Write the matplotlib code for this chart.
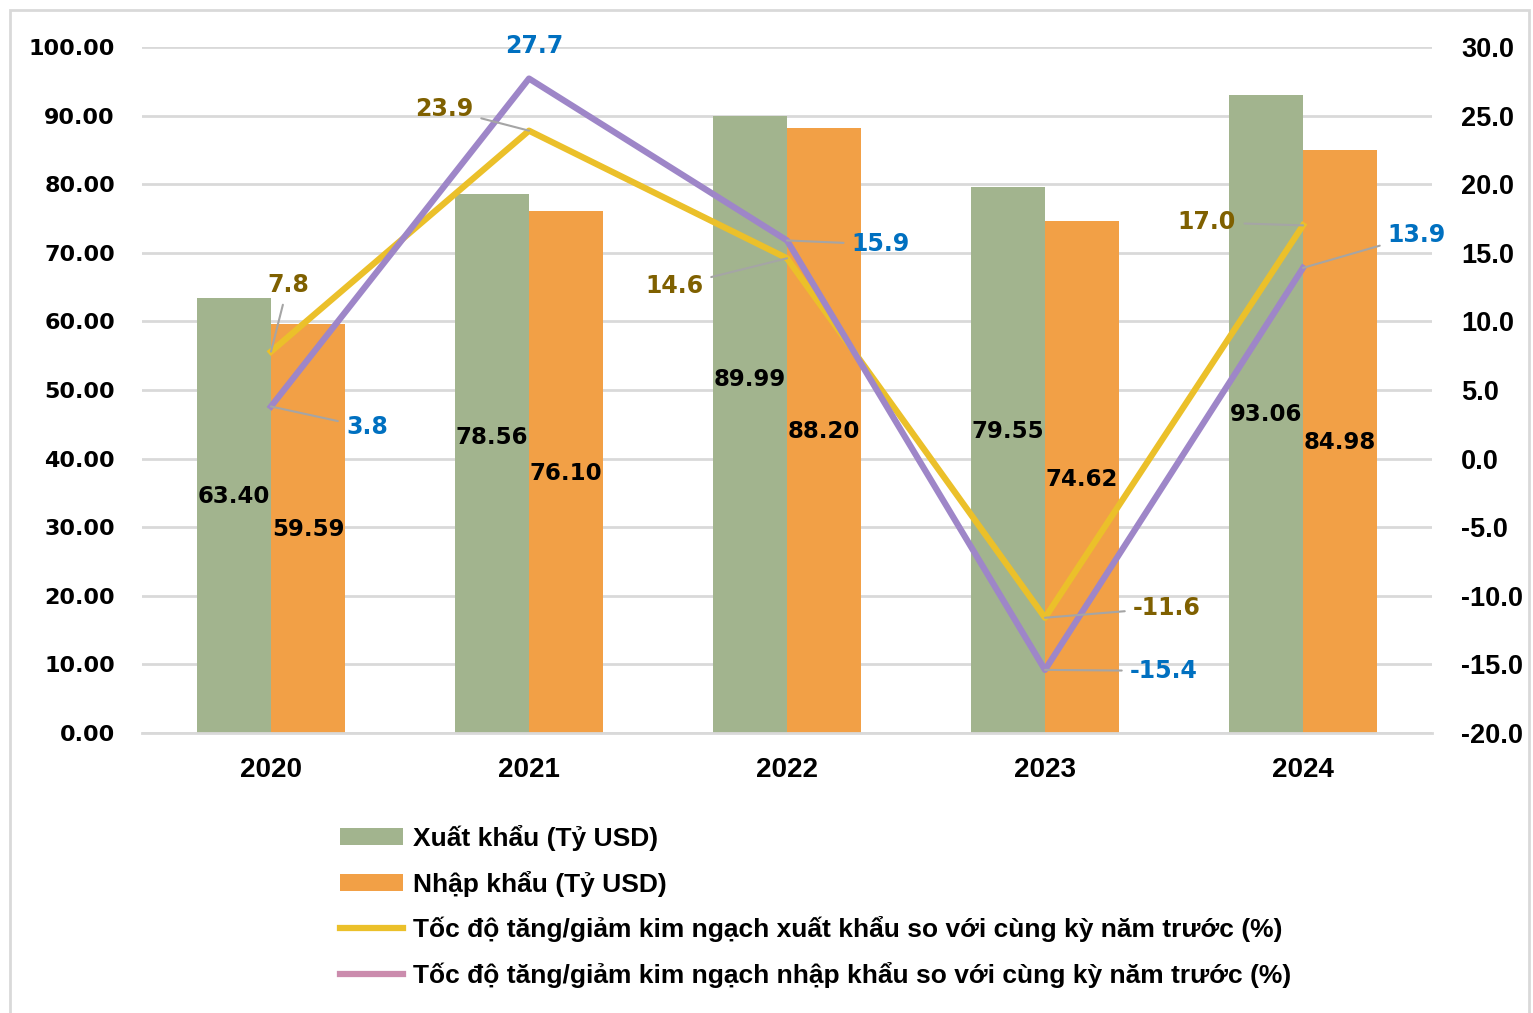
import matplotlib
matplotlib.use("Agg")
import matplotlib.pyplot as plt
import numpy as np
from matplotlib.patches import Rectangle, Patch
from matplotlib.lines import Line2D

years = ["2020", "2021", "2022", "2023", "2024"]
export_val = [63.40, 78.56, 89.99, 79.55, 93.06]
import_val = [59.59, 76.10, 88.20, 74.62, 84.98]
export_growth = [7.8, 23.9, 14.6, -11.6, 17.0]
import_growth = [3.8, 27.7, 15.9, -15.4, 13.9]

legend_labels = ["Xuất khẩu (Tỷ USD)", "Nhập khẩu (Tỷ USD)",
                 "Tốc độ tăng/giảm kim ngạch xuất khẩu so với cùng kỳ năm trước (%)",
                 "Tốc độ tăng/giảm kim ngạch nhập khẩu so với cùng kỳ năm trước (%)"]

# styling: label vertical positions (in left-axis units) and growth label offsets (pixels)
exp_lab_y = [34.5, 43.1, 51.5, 44.0, 46.4]
imp_lab_y = [29.7, 37.9, 43.9, 37.0, 42.4]
exp_g_off = [(17, 67), (-85, 22), (-113, -28), (122, 10), (-96, 3)]
imp_g_off = [(96, -21), (5, 33), (94, -4), (119, -1), (114, 33)]

GREEN = "#A2B48E"
ORANGE = "#F2A046"
YELLOW = "#EBC02A"
PURPLE = "#9E86C8"
GOLD_TXT = "#7F6000"
BLUE_TXT = "#0070C0"
GRID = "#D9D9D9"

fig = plt.figure(figsize=(15.33, 10.13), dpi=100)
ax = fig.add_axes([142/1533, 1-733/1013, (1432-142)/1533, (733-47)/1013])
ax2 = ax.twinx()

x = np.arange(len(years))
w = 0.287
ax.bar(x - w/2, export_val, w, color=GREEN, zorder=2)
ax.bar(x + w/2, import_val, w, color=ORANGE, zorder=2)
ax.set_xlim(-0.5, len(years)-0.5)
ax.set_ylim(0, 100)
ax.set_yticks(np.arange(0, 101, 10))
ax.set_yticklabels([f"{v:.2f}" for v in np.arange(0, 101, 10)])
ax.grid(axis="y", color=GRID, linewidth=2, zorder=0)
ax.set_axisbelow(True)
ax.set_xticks(x)
ax.set_xticklabels(years)
for s in ["top", "left", "right"]:
    ax.spines[s].set_visible(False)
    ax2.spines[s].set_visible(False)
ax.spines["bottom"].set_color(GRID)
ax.spines["bottom"].set_linewidth(2)
ax2.spines["bottom"].set_visible(False)
ax.tick_params(axis="y", length=0, pad=19.5, labelsize=16)
ax.tick_params(axis="x", length=0, pad=17.5, labelsize=20)
for t in ax.get_yticklabels():
    t.set_fontweight("bold")
    t.set_family("DejaVu Sans")
for t in ax.get_xticklabels():
    t.set_fontweight("bold")
    t.set_family("Liberation Sans")

for i in range(len(years)):
    ax.text(x[i] - w/2, exp_lab_y[i], f"{export_val[i]:.2f}", ha="center", va="center",
            fontsize=16.5, fontweight="bold", color="black", zorder=5)
    ax.text(x[i] + w/2, imp_lab_y[i], f"{import_val[i]:.2f}", ha="center", va="center",
            fontsize=16.5, fontweight="bold", color="black", zorder=5)

ax2.set_ylim(-20, 30)
ax2.set_yticks(np.arange(-20, 31, 5))
ax2.set_yticklabels([f"{v:.1f}" for v in np.arange(-20, 31, 5)])
ax2.tick_params(axis="y", length=0, pad=21, labelsize=19.5)
for t in ax2.get_yticklabels():
    t.set_fontweight("bold")
    t.set_family("Liberation Sans")
ax2.plot(x, export_growth, color=YELLOW, linewidth=4.5, zorder=3, solid_joinstyle="round")
ax2.plot(x, import_growth, color=PURPLE, linewidth=4.5, zorder=3, solid_joinstyle="round")

for i in range(len(years)):
    ax2.annotate(f"{export_growth[i]:.1f}", (x[i], export_growth[i]), xytext=exp_g_off[i],
                 textcoords="offset pixels", ha="center", va="center", fontsize=17,
                 fontweight="bold", color=GOLD_TXT,
                 arrowprops=dict(arrowstyle="-", color="#A5A5A5", lw=1.5, shrinkA=4, shrinkB=0))
    ap = None if i == 1 else dict(arrowstyle="-", color="#A5A5A5", lw=1.5, shrinkA=4, shrinkB=0)
    ax2.annotate(f"{import_growth[i]:.1f}", (x[i], import_growth[i]), xytext=imp_g_off[i],
                 textcoords="offset pixels", ha="center", va="center", fontsize=17,
                 fontweight="bold", color=BLUE_TXT, arrowprops=ap)

handles = [Patch(facecolor=GREEN), Patch(facecolor=ORANGE),
           Line2D([], [], color=YELLOW, linewidth=4.5),
           Line2D([], [], color="#CB8CAD", linewidth=4.5)]
fig.legend(handles, legend_labels, loc="upper left", bbox_to_anchor=(340/1533, 1-825/1013),
           frameon=False, handlelength=2.4, handleheight=0.6, handletextpad=0.35,
           labelspacing=0.74, borderaxespad=0, borderpad=0,
           prop={"family": "Liberation Sans", "weight": "bold", "size": 19})

fig.patches.append(Rectangle((10/1533, -10/1013), 1519/1533, 1-0/1013, transform=fig.transFigure,
                             fill=False, edgecolor=GRID, linewidth=2))

fig.savefig("out.png", dpi=100)
